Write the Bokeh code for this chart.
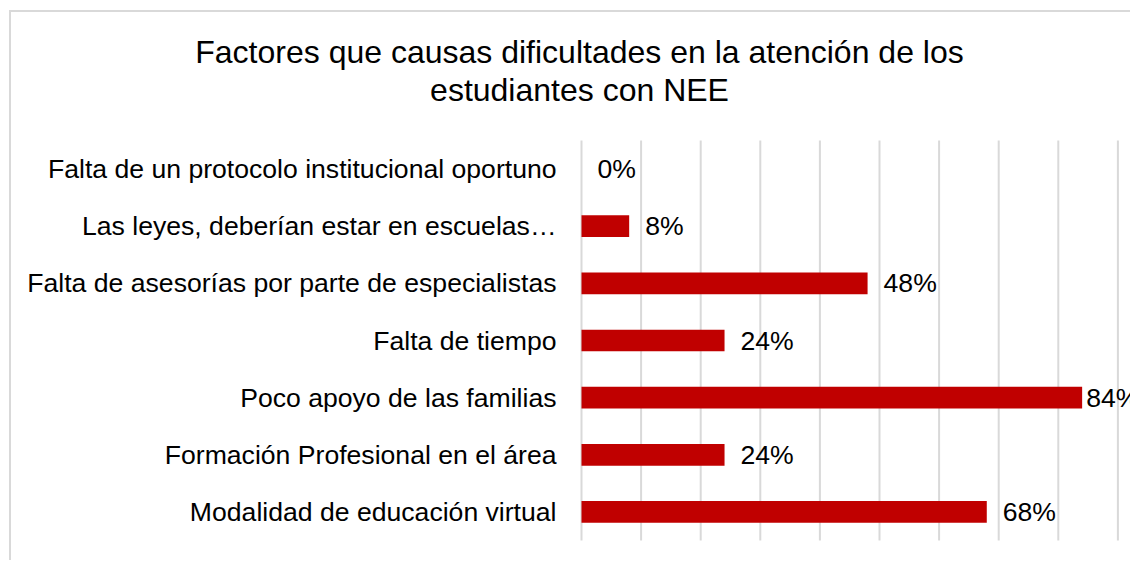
from bokeh.plotting import figure
from bokeh.models import ColumnDataSource, Range1d
from bokeh.core.properties import value
from bokeh.embed import file_html
from bokeh.resources import INLINE

# ---- data ----
categories = [
    "Falta de un protocolo institucional oportuno",
    "Las leyes, deberían estar en escuelas…",
    "Falta de asesorías por parte de especialistas",
    "Falta de tiempo",
    "Poco apoyo de las familias",
    "Formación Profesional en el área",
    "Modalidad de educación virtual",
]
values = [0, 8, 48, 24, 84, 24, 68]
title_lines = ["Factores que causas dificultades en la atención de los",
               "estudiantes con NEE"]
x_ticks = [0, 10, 20, 30, 40, 50, 60, 70, 80, 90]

FONT = "Liberation Sans"
BAR = "#c00000"
GRID = "#d9d9d9"
LABEL_SIZE = 26.6
TITLE_SIZE = 32

# ---- geometry (canvas pixels) ----
W, H = 1121, 550
zero_px = 570                 # canvas x of the value 0
px_per_unit = 5.96            # px per percentage point
plot_top, plot_bottom = 128, 528
n = len(categories)
px_per_cat = (plot_bottom - plot_top) / n

x_start = -zero_px / px_per_unit
x_end = x_start + W / px_per_unit
# numeric category positions: first category at top
pos = [n - 1 - i for i in range(n)]
y_top_edge = n - 0.5
y_end = y_top_edge + plot_top / px_per_cat
y_start = -0.5 - (H - plot_bottom) / px_per_cat

p = figure(width=W, height=H, x_range=Range1d(x_start, x_end),
           y_range=Range1d(y_start, y_end),
           output_backend="svg", toolbar_location=None,
           x_axis_location=None, y_axis_location=None,
           min_border_left=0, min_border_right=0,
           min_border_top=0, min_border_bottom=0)
p.title = None
p.outline_line_color = None
p.background_fill_color = "white"
p.border_fill_color = "white"
p.xgrid.grid_line_color = None
p.ygrid.grid_line_color = None
p.styles = {"border-left": "2px solid #d9d9d9", "border-top": "2px solid #d9d9d9",
            "margin-left": "9px", "margin-top": "10px"}

# vertical grid lines spanning the category band
p.segment(x0=x_ticks, x1=x_ticks, y0=[-0.5] * len(x_ticks),
          y1=[y_top_edge] * len(x_ticks), line_color=GRID, line_width=2)

labels_txt = [f"{v}%" for v in values]
label_w = 2.0 * LABEL_SIZE
offsets = [16 if zero_px + v * px_per_unit + 16 + label_w <= W + 15 else 4
           for v in values]
src = ColumnDataSource(dict(cat=categories, pos=pos, val=values,
                            lab=labels_txt, off=offsets))

p.hbar(y="pos", right="val", left=0, height=0.38, source=src,
       fill_color=BAR, line_color=None)

# value labels
p.text(x="val", y="pos", text="lab", x_offset="off", source=src,
       text_font=value(FONT), text_font_size=value(f"{LABEL_SIZE}px"),
       text_color="#000000", text_baseline="middle", text_align="left")

# category labels (act as the y axis)
p.text(x=0, y="pos", text="cat", x_offset=-25, source=src,
       text_font=value(FONT), text_font_size=value(f"{LABEL_SIZE}px"),
       text_color="#000000", text_baseline="middle", text_align="right")

# title (two centred lines)
title_cx = -2 / px_per_unit
baselines = [39.7, 77.7]
p.text(x=[title_cx] * 2, y=[y_end - b / px_per_cat for b in baselines],
       text=title_lines, text_font=value(FONT),
       text_font_size=value(f"{TITLE_SIZE}px"), text_color="#000000",
       text_align="center", text_baseline="alphabetic")

open("out.html", "w").write(file_html(p, INLINE))
